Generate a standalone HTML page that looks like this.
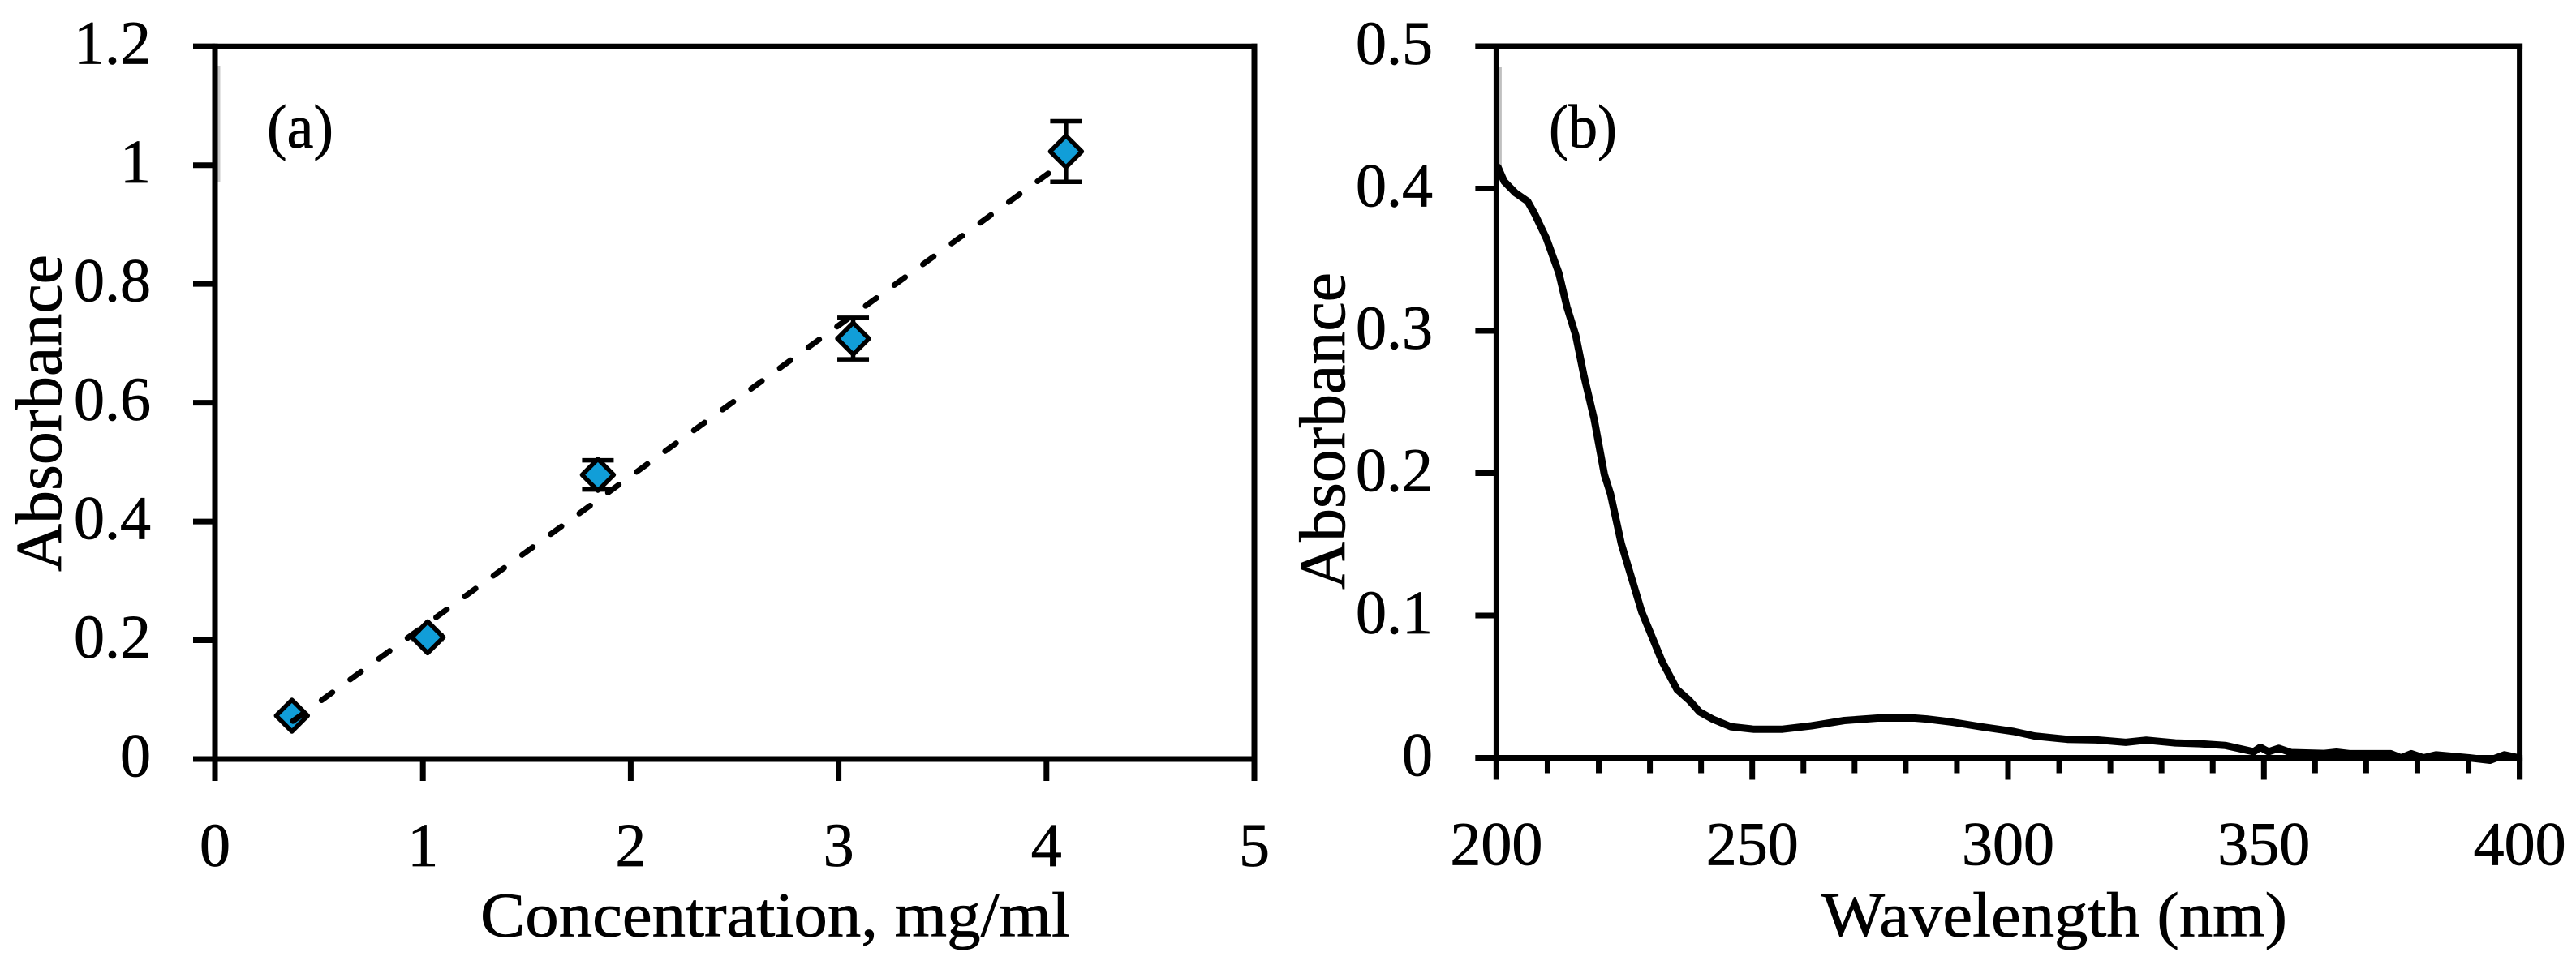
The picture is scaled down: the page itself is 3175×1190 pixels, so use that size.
<!DOCTYPE html>
<html lang="en">
<head>
<meta charset="utf-8">
<title>Absorbance charts</title>
<style>
html,body{margin:0;padding:0;background:#fff;width:3175px;height:1190px;overflow:hidden}
svg{display:block}
text{font-family:"Liberation Serif",serif;fill:#000;stroke:#000;stroke-width:0.7px}
</style>
</head>
<body>
<svg id="figure" xmlns="http://www.w3.org/2000/svg" width="3175" height="1190" viewBox="0 0 3175 1190"></svg>
<script>
// Panel (a) data
const concTicks = [0, 1, 2, 3, 4, 5];
const concTickLabels = ['0', '1', '2', '3', '4', '5'];
const absTicksA = [0, 0.2, 0.4, 0.6, 0.8, 1, 1.2];
const absTickLabelsA = ['0', '0.2', '0.4', '0.6', '0.8', '1', '1.2'];
const concentration = [0.37, 1.023, 1.842, 3.07, 4.094];
const absorbanceA = [0.073, 0.205, 0.4785, 0.708, 1.023];
const absorbanceErr = [0.002, 0.004, 0.0246, 0.035, 0.051];
const trendConc = [0.375, 4.03];
const trendAbs = [0.064, 0.9915];

// Panel (b) data
const waveTicks = [200, 250, 300, 350, 400];
const waveTickLabels = ['200', '250', '300', '350', '400'];
const waveMinorTicks = [210, 220, 230, 240, 260, 270, 280, 290, 310, 320, 330, 340, 360, 370, 380, 390];
const absTicksB = [0, 0.1, 0.2, 0.3, 0.4, 0.5];
const absTickLabelsB = ['0', '0.1', '0.2', '0.3', '0.4', '0.5'];
const wavelength = [200.3, 201.5, 203.7, 206.1, 207.5, 209.8, 212.2, 213.8, 215.5, 217.1, 219.1, 221.1, 222.3, 224.4, 226.4, 228.4, 230.4, 232.4, 235.3, 237.7, 239.7, 242.2, 245.8, 250.2, 255.9, 261.6, 268, 274.5, 281.8, 284.1, 289, 294.7, 301.1, 305.2, 311.6, 317.3, 323, 327, 332.7, 337.5, 342.4, 348, 349.3, 350.9, 352.9, 355.3, 361.8, 364.2, 366.7, 374.8, 376.8, 378.8, 381.2, 383.7, 390.1, 394.2, 397, 399.8];
const spectrum = [0.415, 0.405, 0.397, 0.391, 0.382, 0.3646, 0.3406, 0.3166, 0.297, 0.2686, 0.2381, 0.1989, 0.1854, 0.1505, 0.1265, 0.1025, 0.0851, 0.0676, 0.048, 0.0404, 0.0323, 0.0273, 0.0219, 0.0201, 0.0201, 0.0225, 0.0262, 0.0279, 0.0279, 0.0273, 0.0251, 0.0218, 0.0185, 0.0153, 0.013, 0.0126, 0.0109, 0.0124, 0.0105, 0.0099, 0.0087, 0.0043, 0.0074, 0.0043, 0.0067, 0.0037, 0.0031, 0.004, 0.0029, 0.0029, 0, 0.0029, 0, 0.0021, 0, -0.0017, 0.0021, 0];

// Axis functions
const xA = v => 265 + v * 256.2;
const yA = v => 936 - v * 732.3;
const xB = v => 1844.4 + (v - 200) * 6.306;
const yB = v => 934.5 - v * 1755;

const svg = document.getElementById('figure');
const NS = 'http://www.w3.org/2000/svg';
function mk(tag, parent, attrs, txt) {
  const n = document.createElementNS(NS, tag);
  for (const k in attrs) n.setAttribute(k, attrs[k]);
  if (txt !== undefined) n.textContent = txt;
  parent.appendChild(n);
  return n;
}
function ln(parent, x1, y1, x2, y2, w) {
  return mk('line', parent, {x1, y1, x2, y2, stroke: '#000', 'stroke-width': w});
}
const FONT = 76;

// ---------- Panel A ----------
const panelA = mk('g', svg, {});



const frameTopA = ln(panelA, xA(0) - 27, yA(1.2), xA(5) + 3.5, yA(1.2), 7);


const frameRightA = ln(panelA, xA(5), yA(1.2) - 3.5, xA(5), yA(0) + 27, 7);


const axisYA = ln(panelA, xA(0), yA(1.2) - 3.5, xA(0), yA(0) + 27, 7);


const axisXA = ln(panelA, xA(0) - 27, yA(0), xA(5) + 3.5, yA(0), 7);


const ghostA = ln(panelA, xA(0) + 5, 82, xA(0) + 5, 224, 3);
ghostA.setAttribute('stroke', '#c8c8c8');



absTicksA.forEach((v, i) => {
  const t = ln(panelA, xA(0) - 27, yA(v), xA(0), yA(v), 7);
  
  
  const l = mk('text', panelA, {x: 186, y: yA(v) + 21.5, 'font-size': FONT, 'text-anchor': 'end'}, absTickLabelsA[i]);
  
  
});
concTicks.forEach((v, i) => {
  const t = ln(panelA, xA(v), yA(0), xA(v), yA(0) + 27, 7);
  
  
  const l = mk('text', panelA, {x: xA(v), y: 1068, 'font-size': FONT, 'text-anchor': 'middle'}, concTickLabels[i]);
  
  
});

concentration.forEach((v, i) => {
  const cx = xA(v);
  const top = yA(absorbanceA[i] + absorbanceErr[i]);
  const bot = yA(absorbanceA[i] - absorbanceErr[i]);
  const stem = ln(panelA, cx, top, cx, bot, 5.5);
  
  
  const capT = ln(panelA, cx - 19.5, top, cx + 19.5, top, 5.5);
  
  
  const capB = ln(panelA, cx - 19.5, bot, cx + 19.5, bot, 5.5);
  
  
});
concentration.forEach((v, i) => {
  const cx = xA(v), cy = yA(absorbanceA[i]), r = 19.5;
  const d = mk('polygon', panelA, {
    points: `${cx},${cy - r} ${cx + r},${cy} ${cx},${cy + r} ${cx - r},${cy}`,
    fill: '#119ED8', stroke: '#000', 'stroke-width': 5.5, 'stroke-linejoin': 'round'
  });
  
  
});
const trend = ln(panelA, xA(trendConc[0]), yA(trendAbs[0]), xA(trendConc[1]), yA(trendAbs[1]), 7);
trend.setAttribute('stroke-dasharray', '16.5 27.1');
trend.setAttribute('stroke-linecap', 'round');



const tagA = mk('text', panelA, {x: 329, y: 182, 'font-size': FONT, textLength: 82, lengthAdjust: 'spacingAndGlyphs'}, '(a)');


const xTitleA = mk('text', panelA, {x: 592, y: 1154.5, 'font-size': 78, textLength: 727, lengthAdjust: 'spacingAndGlyphs'}, 'Concentration, mg/ml');


const yTitleA = mk('text', panelA, {x: 0, y: 0, 'font-size': 80, textLength: 391, lengthAdjust: 'spacingAndGlyphs', transform: 'translate(75 705) rotate(-90)'}, 'Absorbance');



// ---------- Panel B ----------
const panelB = mk('g', svg, {});



const ghostB = ln(panelB, xB(200) + 5, 83, xB(200) + 5, 205, 3);
ghostB.setAttribute('stroke', '#c0c0c0');



const curve = mk('polyline', panelB, {
  points: wavelength.map((w, i) => `${xB(w).toFixed(1)},${yB(spectrum[i]).toFixed(1)}`).join(' '),
  fill: 'none', stroke: '#000', 'stroke-width': 9, 'stroke-linejoin': 'round', 'stroke-linecap': 'round'
});



const frameTopB = ln(panelB, xB(200) - 26, yB(0.5), xB(400) + 3.5, yB(0.5), 7);


const frameRightB = ln(panelB, xB(400), yB(0.5) - 3.5, xB(400), yB(0) + 27, 7);


const axisYB = ln(panelB, xB(200), yB(0.5) - 3.5, xB(200), yB(0) + 27, 7);


const axisXB = ln(panelB, xB(200) - 26, yB(0), xB(400) + 3.5, yB(0), 7);



absTicksB.forEach((v, i) => {
  const t = ln(panelB, xB(200) - 26, yB(v), xB(200), yB(v), 7);
  
  
  const l = mk('text', panelB, {x: 1766, y: yB(v) + 22, 'font-size': FONT, 'text-anchor': 'end'}, absTickLabelsB[i]);
  
  
});
waveTicks.forEach((v, i) => {
  const t = ln(panelB, xB(v), yB(0), xB(v), yB(0) + 27, 7);
  
  
  const l = mk('text', panelB, {x: xB(v), y: 1066.5, 'font-size': FONT, 'text-anchor': 'middle'}, waveTickLabels[i]);
  
  
});
waveMinorTicks.forEach(v => {
  const t = ln(panelB, xB(v), yB(0), xB(v), yB(0) + 19, 7);
  
  
});

const tagB = mk('text', panelB, {x: 1909, y: 182, 'font-size': FONT, textLength: 84, lengthAdjust: 'spacingAndGlyphs'}, '(b)');


const xTitleB = mk('text', panelB, {x: 2245, y: 1154.5, 'font-size': 78, textLength: 574, lengthAdjust: 'spacingAndGlyphs'}, 'Wavelength (nm)');


const yTitleB = mk('text', panelB, {x: 0, y: 0, 'font-size': 80, textLength: 391, lengthAdjust: 'spacingAndGlyphs', transform: 'translate(1657 727) rotate(-90)'}, 'Absorbance');


</script>
</body>
</html>
